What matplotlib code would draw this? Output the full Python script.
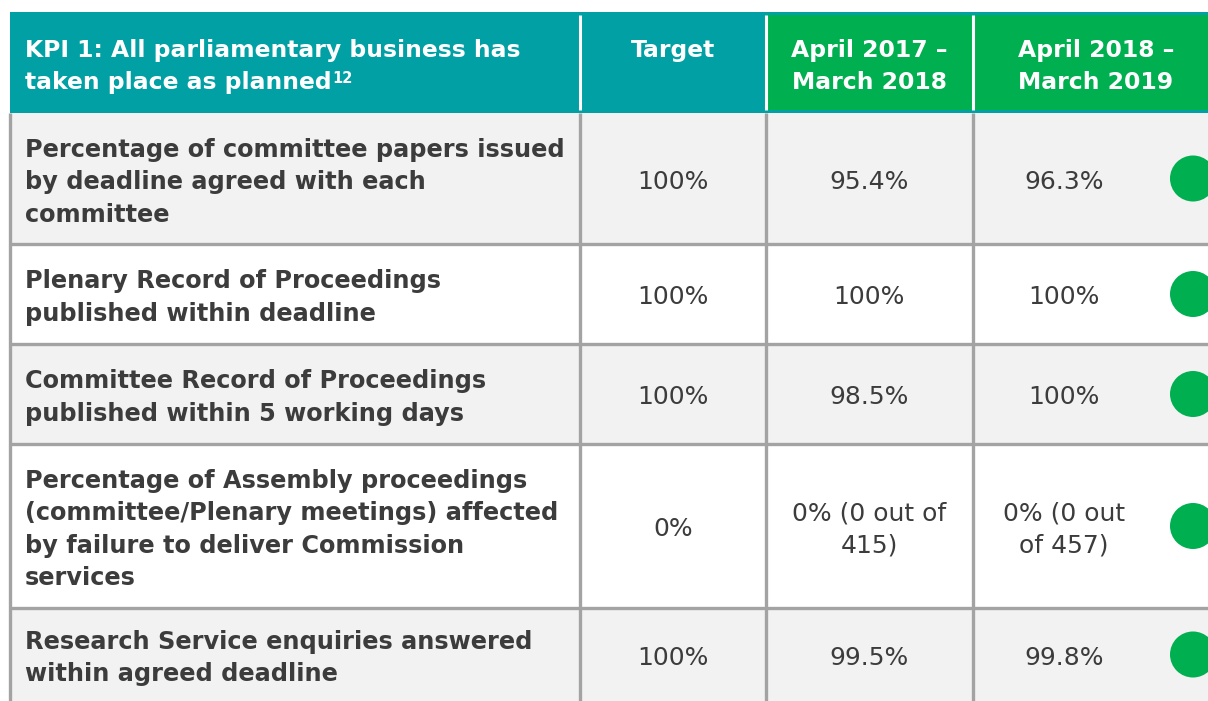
import matplotlib
matplotlib.use("Agg")
import matplotlib.pyplot as plt
from matplotlib.patches import Rectangle, Circle

# ---------------- data ----------------
header_kpi = ["KPI 1: All parliamentary business has", "taken place as planned"]
header_footnote = "12"
header_cols = [["Target"], ["April 2017 –", "March 2018"], ["April 2018 –", "March 2019"]]

measures = [
    ["Percentage of committee papers issued", "by deadline agreed with each", "committee"],
    ["Plenary Record of Proceedings", "published within deadline"],
    ["Committee Record of Proceedings", "published within 5 working days"],
    ["Percentage of Assembly proceedings", "(committee/Plenary meetings) affected",
     "by failure to deliver Commission", "services"],
    ["Research Service enquiries answered", "within agreed deadline"],
]
targets = [["100%"], ["100%"], ["100%"], ["0%"], ["100%"]]
values_2017_18 = [["95.4%"], ["100%"], ["98.5%"], ["0% (0 out of", "415)"], ["99.5%"]]
values_2018_19 = [["96.3%"], ["100%"], ["100%"], ["0% (0 out", "of 457)"], ["99.8%"]]
status = ["green", "green", "green", "green", "green"]

# ---------------- layout ----------------
W, H = 1208, 701
TEAL = "#00a0a4"
GREEN = "#00b050"
GREY_BG = "#f2f2f2"
LINE = "#a3a3a3"
TXT = "#3c3c3c"
status_colors = {"green": GREEN}

col_x = [10, 580, 766, 973, 1208]
head_top, head_bot = 12, 113
row_edges = [113, 244, 344, 444, 608, 701]
val_centers = [673, 869, 1064]
head_centers = [673, 869, 1096]

fig = plt.figure(figsize=(W / 100, H / 100), dpi=100)
ax = fig.add_axes([0, 0, 1, 1])
ax.set_xlim(0, W)
ax.set_ylim(H, 0)
ax.axis("off")

FS_HEAD = 16.9
FS_BOLD = 17.3
FS_VAL = 18
STEP_B = 32.5
STEP_V = 31.5


def draw_lines(x, first_baseline, lines, step, **kw):
    out = []
    for k, ln in enumerate(lines):
        out.append(ax.text(x, first_baseline + k * step, ln, va="baseline", **kw))
    return out


# header backgrounds
ax.add_patch(Rectangle((col_x[0], head_top), col_x[2] - col_x[0], head_bot - head_top,
                       facecolor=TEAL, edgecolor="none"))
ax.add_patch(Rectangle((col_x[2], head_top), W - col_x[2], head_bot - head_top,
                       facecolor=GREEN, edgecolor="none"))
ax.add_patch(Rectangle((col_x[2], head_top), W - col_x[2], 3, facecolor=TEAL, edgecolor="none"))
ax.add_patch(Rectangle((col_x[0], head_bot - 3), W - col_x[0], 3, facecolor=TEAL, edgecolor="none"))
for x in col_x[1:4]:
    ax.plot([x, x], [head_top + 3, head_bot - 3], color="white", lw=2.2, solid_capstyle="butt")

kpi_texts = draw_lines(25, 56.7, header_kpi, 32.5, color="white", fontsize=FS_HEAD,
                       fontweight="bold", ha="left")
ax.annotate(header_footnote, xy=(1, 1), xycoords=kpi_texts[-1], xytext=(0.5, 0.5),
            textcoords="offset points", ha="left", va="top", fontsize=10.5,
            fontweight="bold", color="white")
for xc, lines in zip(head_centers, header_cols):
    draw_lines(xc, 56.7, lines, 32.5, color="white", fontsize=FS_HEAD,
               fontweight="bold", ha="center")

# body rows
for i, (m, t, v1, v2, s) in enumerate(zip(measures, targets, values_2017_18,
                                          values_2018_19, status)):
    y0, y1 = row_edges[i], row_edges[i + 1]
    yc = (y0 + y1) / 2
    bg = GREY_BG if i % 2 == 0 else "white"
    ax.add_patch(Rectangle((col_x[0], y0), W - col_x[0], y1 - y0, facecolor=bg,
                           edgecolor="none", zorder=0))
    fb = yc + 10.5 - (len(m) - 1) / 2 * STEP_B
    draw_lines(25, fb, m, STEP_B, color=TXT, fontsize=FS_BOLD, fontweight="bold", ha="left")
    for xc, val in zip(val_centers, [t, v1, v2]):
        fv = yc + 10.5 - (len(val) - 1) / 2 * STEP_V
        draw_lines(xc, fv, val, STEP_V, color=TXT, fontsize=FS_VAL, ha="center")
    ax.add_patch(Circle((1193, yc), 23, facecolor=status_colors[s],
                        edgecolor="none", zorder=3))

# grid lines
for y in row_edges[1:-1]:
    ax.plot([col_x[0], W], [y, y], color=LINE, lw=2.4, solid_capstyle="butt", zorder=2)
for x in col_x[:4]:
    ax.plot([x, x], [head_bot, H], color=LINE, lw=2.4, solid_capstyle="butt", zorder=2)

fig.savefig("out.png", dpi=100)
